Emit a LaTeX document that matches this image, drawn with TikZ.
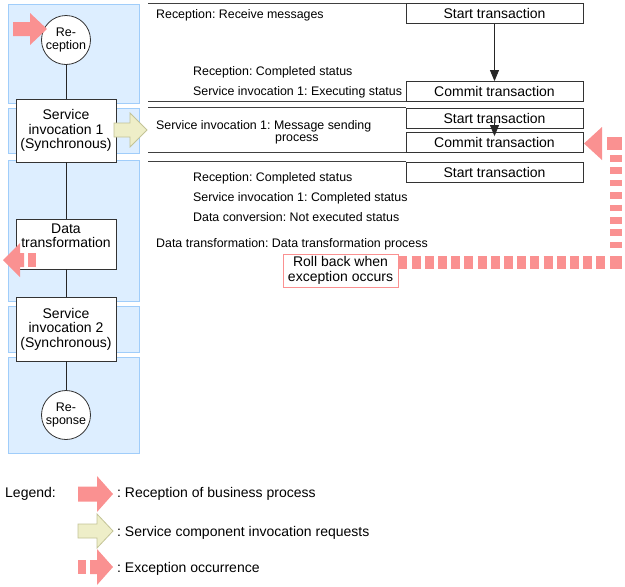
\documentclass[tikz,border=0pt]{standalone}
\usepackage{fontspec}
\setmainfont{Liberation Sans}
\usepackage{color}
\usetikzlibrary{arrows.meta}
\definecolor{panelblue}{RGB}{221,238,255}
\definecolor{panelline}{RGB}{160,205,250}
\definecolor{excpink}{RGB}{250,145,145}
\definecolor{reqyellow}{RGB}{238,238,200}
\definecolor{reqline}{RGB}{195,195,150}
\frenchspacing

\begin{document}
\begin{tikzpicture}[%
      x=1pt, y=-1pt,
      panel/.style={fill=panelblue, draw=panelline, line width=0.8pt},
      procbox/.style={draw=black!80, fill=white, line width=0.8pt, minimum width=100pt,
        inner sep=0pt, align=center, font=\fontsize{14}{14.5}\selectfont},
      endpoint/.style={circle, draw=black!80, fill=white, line width=0.8pt, minimum size=49pt,
        inner sep=0pt, align=center, font=\fontsize{12.5}{12.5}\selectfont},
      txbox/.style={draw=black!80, fill=white, line width=0.8pt, minimum width=177pt,
        minimum height=20pt, inner sep=0pt, font=\fontsize{14}{14}\selectfont},
      status/.style={anchor=base west, inner sep=0pt, font=\fontsize{12.4}{12}\selectfont},
      legendtext/.style={anchor=base west, inner sep=0pt, font=\fontsize{14}{14}\selectfont},
      separator/.style={draw=black!75, line width=0.9pt},
      link/.style={draw=black!85, line width=0.8pt},
      flow/.style={draw=black!85, line width=0.8pt, -{Triangle[length=11pt,width=9pt]}},
      ]
      \useasboundingbox (0,0) rectangle (625,587);

      \filldraw [panel] (8,4) rectangle (139,103);
      \filldraw [panel] (8,108) rectangle (139,153);
      \filldraw [panel] (8,160) rectangle (139,301);
      \filldraw [panel] (8,306) rectangle (139,352);
      \filldraw [panel] (8,357) rectangle (139,453);

      \node [endpoint] (rcpt) at (66,40) {Re-\\ception};
      \node [procbox, minimum height=63pt] (svc1) at (66,130.5) {Service\\invocation 1\\(Synchronous)};
      \node [procbox, minimum height=50pt] (dtf) at (66,244) {};
      \node [align=center, anchor=north, inner sep=0pt, font=\fontsize{14}{14}\selectfont]
            (dtflabel) at ([yshift=-5pt]dtf.north) {Data\\transformation};
      \node [procbox, minimum height=64pt] (svc2) at (66,329) {Service\\invocation 2\\(Synchronous)};
      \node [endpoint] (resp) at (66,415) {Re-\\sponse};

      \draw [link] (rcpt) -- (svc1);
      \draw [link] (svc1) -- (dtf);
      \draw [link] (dtf) -- (svc2);
      \draw [link] (svc2) -- (resp);

      \fill [excpink] (13,22) -- (30,22) -- (30,13) -- (47,29) -- (30,45) -- (30,36) -- (13,36) -- cycle;
      \filldraw [fill=reqyellow, draw=reqline, line width=0.8pt]
            (114,123) -- (130,123) -- (130,113) -- (147,130) -- (130,147) -- (130,137) -- (114,137) -- cycle;
      \fill [excpink] (3,260) -- (20,243) -- (20,253) -- (24,253) -- (24,267) -- (20,267) -- (20,277) -- cycle;
      \fill [excpink] (28,253) rectangle (36,267);

      \node [txbox] (st1) at (494.5,13.5) {Start transaction};
      \node [txbox] (ct1) at (494.5,91.5) {Commit transaction};
      \node [txbox] (st2) at (494.5,118) {Start transaction};
      \node [txbox] (ct2) at (494.5,142.5) {Commit transaction};
      \node [txbox] (st3) at (494.5,172) {Start transaction};

      \draw [flow] (st1) -- (ct1);
      \draw [flow] ([yshift=5pt]st2.south) -- ([yshift=-4pt]ct2.north);

      \draw [separator] (st1.north west) -- ++(-258,0);
      \draw [separator] (ct1.south west) -- ++(-258,0);
      \draw [separator] (st2.north west) -- ++(-258,0);
      \draw [separator] (ct2.south west) -- ++(-258,0);
      \draw [separator] (st3.north west) -- ++(-258,0);

      \node [status] (s1) at (156,18.5) {Reception: Receive messages};
      \node [status] (s2) at (193,75.5) {Reception: Completed status};
      \node [status] (s3) at (193,95.5) {Service invocation 1: Executing status};
      \node [status, anchor=north west, align=left] (s4) at (156,120.5)
            {Service invocation 1: Message sending\\\hspace*{119pt}process};
      \node [status] (s5) at (193,181.5) {Reception: Completed status};
      \node [status] (s6) at (193,201.5) {Service invocation 1: Completed status};
      \node [status] (s7) at (193,221.5) {Data conversion: Not executed status};
      \node [status] (s8) at (156,247.5) {Data transformation: Data transformation process};

      \node [draw=excpink, line width=0.9pt, fill=white, minimum width=115pt, minimum height=33pt,
             inner sep=0pt, align=center, font=\fontsize{14}{15}\selectfont]
            (rollback) at (340.5,270.5) {Roll back when\\exception occurs};

      \draw [excpink, line width=13pt, dash pattern=on 9pt off 4.2pt] ([yshift=8pt]rollback.east) -- ++(207,0);
      \fill [excpink] (610,256) rectangle (622,269);
      \draw [excpink, line width=12pt, dash pattern=on 6.5pt off 5.9pt] (616,155) -- (616,249);
      \fill [excpink] (607,137) rectangle (622,150);
      \fill [excpink] (584,143.5) -- (602,127) -- (602,160) -- cycle;

      \node [legendtext] (legend) at (5,497) {Legend:};
      \fill [excpink] (78,486.5) -- (97,486.5) -- (97,476) -- (113,494) -- (97,512) -- (97,501.5) -- (78,501.5) -- cycle;
      \filldraw [fill=reqyellow, draw=reqline, line width=0.8pt]
            (78,524) -- (97,524) -- (97,514) -- (113,531) -- (97,548) -- (97,538) -- (78,538) -- cycle;
      \fill [excpink] (78,560) rectangle (86,574);
      \fill [excpink] (90,560) -- (97,560) -- (97,549) -- (113,567) -- (97,585) -- (97,574) -- (90,574) -- cycle;
      \node [legendtext] (l1) at (117,497) {: Reception of business process};
      \node [legendtext] (l2) at (117,536) {: Service component invocation requests};
      \node [legendtext] (l3) at (117,572) {: Exception occurrence};
      \end{tikzpicture}
\end{document}
